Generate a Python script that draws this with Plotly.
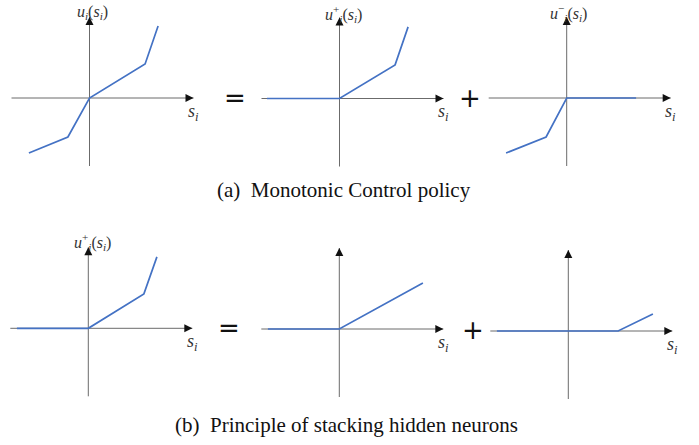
import plotly.graph_objects as go

W, H = 699, 445
S = 20.0  # pixels per unit

# ---- data (math units) ----
p1_s = [-3.03, -1.08, 0.0, 2.78, 3.43]
p1_u = [-2.75, -1.95, 0.0, 1.70, 3.60]
p2_s = [-3.63, 0.0, 2.78, 3.43]
p2_u = [0.0, 0.0, 1.68, 3.58]
p3_s = [-3.03, -1.03, 0.0, 3.47]
p3_u = [-2.75, -1.95, 0.0, 0.0]
p4_s = [-3.57, 0.0, 2.78, 3.43]
p4_u = [0.0, 0.0, 1.72, 3.57]
p5_s = [-3.57, 0.0, 4.18]
p5_u = [0.0, 0.0, 2.30]
p6_s = [-3.57, 2.49, 4.23]
p6_u = [0.0, 0.0, 0.85]

panels_s = [p1_s, p2_s, p3_s, p4_s, p5_s, p6_s]
panels_u = [p1_u, p2_u, p3_u, p4_u, p5_u, p6_u]
y_labels = ["<i>u<sub>i</sub></i>(<i>s<sub>i</sub></i>)",
            "<i>u</i><sup>+</sup><sub><i>i</i></sub>(<i>s<sub>i</sub></i>)",
            "<i>u</i><sup>\u2212</sup><sub><i>i</i></sub>(<i>s<sub>i</sub></i>)",
            "<i>u</i><sup>+</sup><sub><i>i</i></sub>(<i>s<sub>i</sub></i>)",
            None, None]
x_label = "<i>s<sub>i</sub></i>"
captions = ["(a)  Monotonic Control policy", "(b)  Principle of stacking hidden neurons"]
operators = ["=", "+", "=", "+"]

# ---- layout geometry (pixels) ----
origins = [(89.5, 98), (339.5, 98.5), (566.7, 98), (88.3, 328.3), (339.3, 329), (568.3, 331)]
label_pos = [(0.15, 4.3), (0.2, 4.25), (0.1, 4.25), (0.2, 4.3)]
XR = (-4.0, 5.6)
YR = (-3.5, 4.9)
AX_X = (-3.9, 5.2)
AX_Y = (-3.4, 4.05)
op_pos = [(235, 98), (470, 98), (229, 328), (473, 330)]
cap_pos = [(344, 190), (346, 425)]

serif = "Times New Roman, Liberation Serif, serif"
blue = "#4472C4"
axis_col = "#6b6b6b"

fig = go.Figure()
annotations = []
layout_axes = {}

for k in range(6):
    idx = "" if k == 0 else str(k + 1)
    xa, ya = "x" + idx, "y" + idx
    ox, oy = origins[k]
    xd = [(ox + XR[0] * S) / W, (ox + XR[1] * S) / W]
    yd = [1 - (oy - YR[0] * S) / H, 1 - (oy - YR[1] * S) / H]
    yd = [max(0, yd[0]), min(1, yd[1])]
    layout_axes["xaxis" + idx] = dict(domain=xd, range=list(XR), visible=False, anchor=ya, fixedrange=True)
    layout_axes["yaxis" + idx] = dict(domain=yd, range=list(YR), visible=False, anchor=xa, fixedrange=True)

    fig.add_trace(go.Scatter(x=[AX_X[0], AX_X[1]], y=[0, 0], mode="lines",
                             line=dict(color=axis_col, width=1), xaxis=xa, yaxis=ya,
                             hoverinfo="skip", showlegend=False))
    fig.add_trace(go.Scatter(x=[0, 0], y=[AX_Y[0], AX_Y[1]], mode="lines",
                             line=dict(color=axis_col, width=1), xaxis=xa, yaxis=ya,
                             hoverinfo="skip", showlegend=False))
    fig.add_trace(go.Scatter(x=panels_s[k], y=panels_u[k], mode="lines",
                             line=dict(color=blue, width=1.7), xaxis=xa, yaxis=ya,
                             showlegend=False))
    annotations.append(dict(x=AX_X[1], y=0, ax=AX_X[1] - 0.4, ay=0, xref=xa, yref=ya,
                            axref=xa, ayref=ya, showarrow=True, arrowhead=2,
                            arrowsize=1.6, arrowwidth=1, arrowcolor="#111", text=""))
    annotations.append(dict(x=0, y=AX_Y[1], ax=0, ay=AX_Y[1] - 0.4, xref=xa, yref=ya,
                            axref=xa, ayref=ya, showarrow=True, arrowhead=2,
                            arrowsize=1.6, arrowwidth=1, arrowcolor="#111", text=""))
    annotations.append(dict(x=AX_X[1], y=-0.7, xref=xa, yref=ya, text=x_label,
                            xanchor="center", yanchor="middle",
                            showarrow=False, font=dict(family=serif, size=18, color="#333")))
    if y_labels[k]:
        lx, ly = label_pos[k]
        annotations.append(dict(x=lx, y=ly, xref=xa, yref=ya, text=y_labels[k],
                                xanchor="center", yanchor="middle",
                                showarrow=False, font=dict(family=serif, size=16, color="#333")))

for op, (px, py) in zip(operators, op_pos):
    annotations.append(dict(x=px / W, y=1 - py / H, xref="paper", yref="paper", text=op,
                            xanchor="center", yanchor="middle",
                            showarrow=False, font=dict(family="DejaVu Sans", size=26, color="#111")))

for cap, (px, py) in zip(captions, cap_pos):
    annotations.append(dict(x=px / W, y=1 - py / H, xref="paper", yref="paper", text=cap,
                            xanchor="center", yanchor="middle",
                            showarrow=False, font=dict(family=serif, size=21, color="#111")))

fig.update_layout(width=W, height=H, margin=dict(l=0, r=0, t=0, b=0),
                  paper_bgcolor="white", plot_bgcolor="white",
                  font=dict(family=serif),
                  annotations=annotations, **layout_axes)

fig.write_html("out.html", config={"displayModeBar": False},
               post_script="document.body.style.margin='0';document.body.style.padding='0';")
